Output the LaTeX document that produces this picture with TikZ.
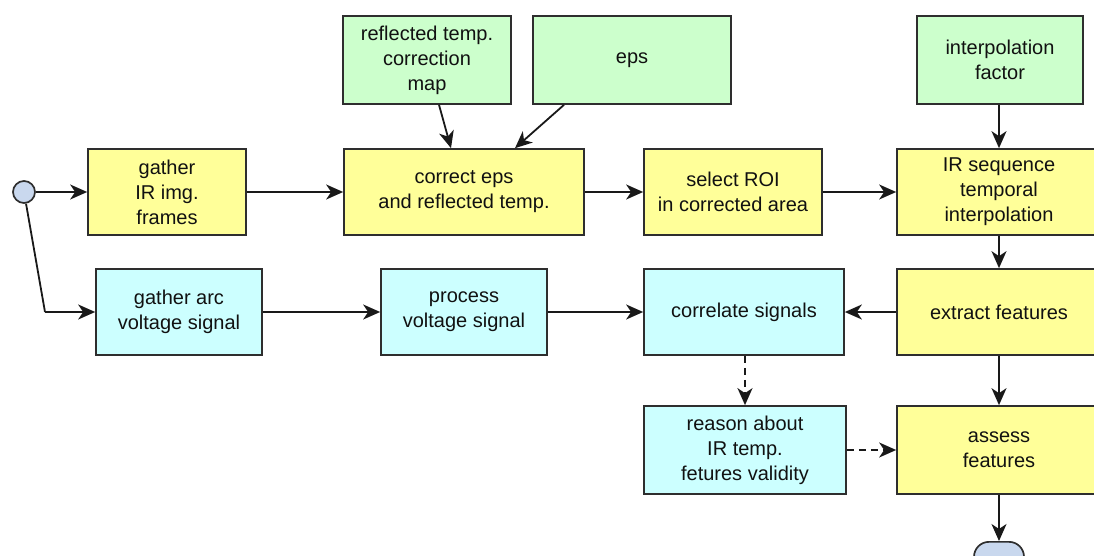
\documentclass[tikz,border=0pt]{standalone}
\usepackage{fontspec}
\setmainfont{Liberation Sans}
\usetikzlibrary{arrows.meta,shapes.misc}
\definecolor{boxline}{HTML}{2E2E2E}
\definecolor{yfill}{HTML}{FFFF99}
\definecolor{gfill}{HTML}{CCFFCC}
\definecolor{cfill}{HTML}{CCFFFF}
\definecolor{txt}{HTML}{111111}
\definecolor{termfill}{HTML}{C9D8EE}
\tikzset{
  base/.style={draw=boxline, line width=1.7pt, align=center, text=txt,
    font=\fontsize{20}{25}\selectfont, inner sep=2pt},
  ybox/.style={base, fill=yfill},
  gbox/.style={base, fill=gfill},
  cbox/.style={base, fill=cfill},
  arr/.style={draw=black!90, line width=1.8pt, -{Stealth[length=17pt,width=15pt,inset=5pt]}},
  darr/.style={arr, line width=2pt, dash pattern=on 7pt off 5pt},
}
\begin{document}
\begin{tikzpicture}[x=1pt,y=-1pt]
\useasboundingbox (0,0) rectangle (1094,556);
\clip (0,0) rectangle (1094,556);
% green inputs
\node[gbox, minimum width=168pt, minimum height=88pt] (rtm) at (427,60) {reflected temp.\\correction\\map};
\node[gbox, minimum width=198pt, minimum height=88pt] (eps) at (632,60) {eps};
\node[gbox, minimum width=166pt, minimum height=88pt] (ipf) at (1000,60) {interpolation\\factor};
% top row
\node[draw=boxline, line width=1.7pt, circle, fill=termfill, minimum size=22pt, inner sep=0pt] (start) at (24,192) {};
\node[ybox, minimum width=158pt, minimum height=86pt] (gir) at (167,192) {gather\\IR img.\\frames};
\node[ybox, minimum width=240pt, minimum height=86pt] (ce) at (464,192) {correct eps\\and reflected temp.};
\node[ybox, minimum width=178pt, minimum height=86pt] (roi) at (733,192) {select ROI\\in corrected area};
\node[ybox, minimum width=204pt, minimum height=86pt] (irs) at (999,192) {IR sequence\\temporal\\interpolation};
% middle row
\node[cbox, minimum width=166pt, minimum height=86pt] (gav) at (179,312) {gather arc\\voltage signal};
\node[cbox, minimum width=166pt, minimum height=86pt] (pvs) at (464,312) {process\\voltage signal};
\node[cbox, minimum width=200pt, minimum height=86pt] (cs) at (744,312) {correlate signals};
\node[ybox, minimum width=204pt, minimum height=86pt] (ef) at (999,312) {extract features};
% bottom row
\node[cbox, minimum width=202pt, minimum height=88pt] (ra) at (745,450) {reason about\\IR temp.\\fetures validity};
\node[ybox, minimum width=204pt, minimum height=88pt] (af) at (999,450) {assess\\features};
\node[draw=boxline, line width=1.7pt, rounded rectangle, fill=termfill, minimum width=50pt, minimum height=30pt, inner sep=0pt, anchor=north] (end) at (999,541) {};
% connectors
\coordinate (bend) at (45,312);
\draw[arr] (start) -- (start -| gir.west);
\draw[line width=1.8pt, draw=black!90] (start) -- (bend);
\draw[arr] (bend) -- (gav.west);
\draw[arr] (gir) -- (ce);
\draw[arr] ([xshift=12pt]rtm.south) -- ([xshift=-13pt]ce.north);
\draw[arr] ([xshift=-68pt]eps.south) -- ([xshift=51pt]ce.north);
\draw[arr] (ce) -- (roi);
\draw[arr] (roi) -- (irs);
\draw[arr] (ipf.south -| irs.north) -- (irs.north);
\draw[arr] (irs) -- (ef);
\draw[arr] (ef) -- (cs);
\draw[arr] (gav) -- (pvs);
\draw[arr] (pvs) -- (cs);
\draw[darr] (cs.south -| ra.north) -- (ra.north);
\draw[darr] (ra) -- (af);
\draw[arr] (ef) -- (af);
\draw[arr] (af) -- (end);
\end{tikzpicture}
\end{document}
